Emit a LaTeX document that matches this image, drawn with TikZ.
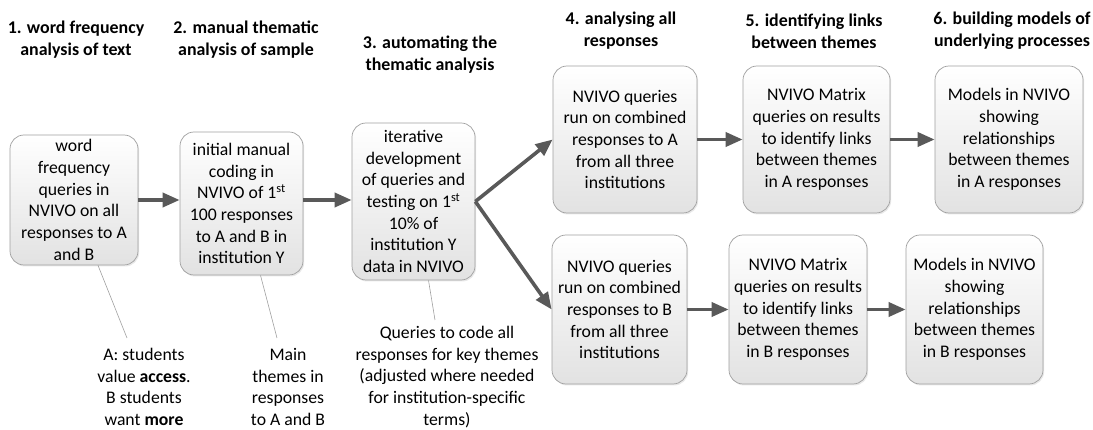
\documentclass[tikz,border=0pt]{standalone}
\usepackage{fontspec}
\setmainfont{Carlito}
\usetikzlibrary{arrows.meta,shadows}
\definecolor{arr}{RGB}{89,89,89}
\definecolor{edge}{RGB}{160,160,160}
\definecolor{fillbot}{RGB}{226,226,226}
\newcommand{\bodyfont}{\fontsize{17.7}{21.7}\selectfont}
\newcommand{\headfont}{\fontsize{17.9}{22}\selectfont\bfseries}
\begin{document}
\begin{tikzpicture}[x=1pt,y=-1pt,
  box/.style={draw=edge, line width=0.7pt, rounded corners=14pt,
    top color=white, bottom color=fillbot,
    drop shadow={opacity=0.18,shadow xshift=1.2pt,shadow yshift=-1.5pt},
    align=center, inner sep=0pt, font=\bodyfont, text=black},
  head/.style={align=center, font=\headfont, inner sep=0pt, text=black},
  note/.style={align=center, font=\bodyfont, inner sep=0pt, text=black},
  flow/.style={draw=arr, line width=3.6pt, -{Triangle[length=17pt,width=14pt]}},
  lead/.style={draw=edge, line width=0.6pt}
]
\useasboundingbox (0,0) rectangle (1093,430);

% headers
\node[head] (h1) at (76,40) {1. word frequency\\analysis of text};
\node[head] (h2) at (246,40) {2. manual thematic\\analysis of sample};
\node[head] (h3) at (430,55) {3. automating the\\thematic analysis};
\node[head] (h4) at (621,31) {4. analysing all\\responses};
\node[head] (h5) at (814,31) {5. identifying links\\between themes};
\node[head] (h6) at (1012,31) {6. building models of\\underlying processes};

% boxes
\node[box, minimum width=128pt, minimum height=130pt] (b1) at (74,200)
  {word\\frequency\\queries in\\NVIVO on all\\responses to A\\and B};
\node[box, minimum width=123pt, minimum height=143pt] (b2) at (241.5,203.5)
  {initial manual\\coding in\\NVIVO of 1\textsuperscript{st}\\100 responses\\to A and B in\\institution Y};
\node[box, minimum width=123pt, minimum height=157pt] (b3) at (413.5,201.5)
  {iterative\\development\\of queries and\\testing on 1\textsuperscript{st}\\10\% of\\institution Y\\data in NVIVO};
\node[box, minimum width=144pt, minimum height=147pt] (b4a) at (625,139.5)
  {NVIVO queries\\run on combined\\responses to A\\from all three\\institutions};
\node[box, minimum width=147pt, minimum height=147pt] (b5a) at (816.5,139.5)
  {NVIVO Matrix\\queries on results\\to identify links\\between themes\\in A responses};
\node[box, minimum width=148pt, minimum height=147pt] (b6a) at (1009,139.5)
  {Models in NVIVO\\showing\\relationships\\between themes\\in A responses};
\node[box, minimum width=135pt, minimum height=149pt] (b4b) at (619.5,309.5)
  {NVIVO queries\\run on combined\\responses to B\\from all three\\institutions};
\node[box, minimum width=138pt, minimum height=149pt] (b5b) at (798,309.5)
  {NVIVO Matrix\\queries on results\\to identify links\\between themes\\in B responses};
\node[box, minimum width=137pt, minimum height=149pt] (b6b) at (974.5,309.5)
  {Models in NVIVO\\showing\\relationships\\between themes\\in B responses};

% notes
\node[note] (n1) at (144,387) {A: students\\value \textbf{access}.\\B students\\want \textbf{more}};
\node[note] (n2) at (288,387) {Main\\themes in\\responses\\to A and B};
\node[note] (n3) at (447,377) {Queries to code all\\responses for key themes\\(adjusted where needed\\for institution-specific\\terms)};

\coordinate (e1) at (127,338);
\coordinate (e2) at (277,338);
\coordinate (e3) at (435,320);
\draw[lead] ([xshift=24pt]b1.south) -- (e1);
\draw[lead] ([xshift=19pt]b2.south) -- (e2);
\draw[lead] ([xshift=15pt]b3.south) -- (e3);

% flow arrows
\draw[flow] (b1.east) -- (b1.east -| b2.west);
\draw[flow] (b2.east |- b1.east) -- (b1.east -| b3.west);
\draw[flow] (b3.east) -- (b4a.west);
\draw[flow] (b3.east) -- (b4b.west);
\draw[flow] (b4a.east) -- (b5a.west);
\draw[flow] (b5a.east) -- (b6a.west);
\draw[flow] (b4b.east) -- (b5b.west);
\draw[flow] (b5b.east) -- (b6b.west);
\end{tikzpicture}
\end{document}
